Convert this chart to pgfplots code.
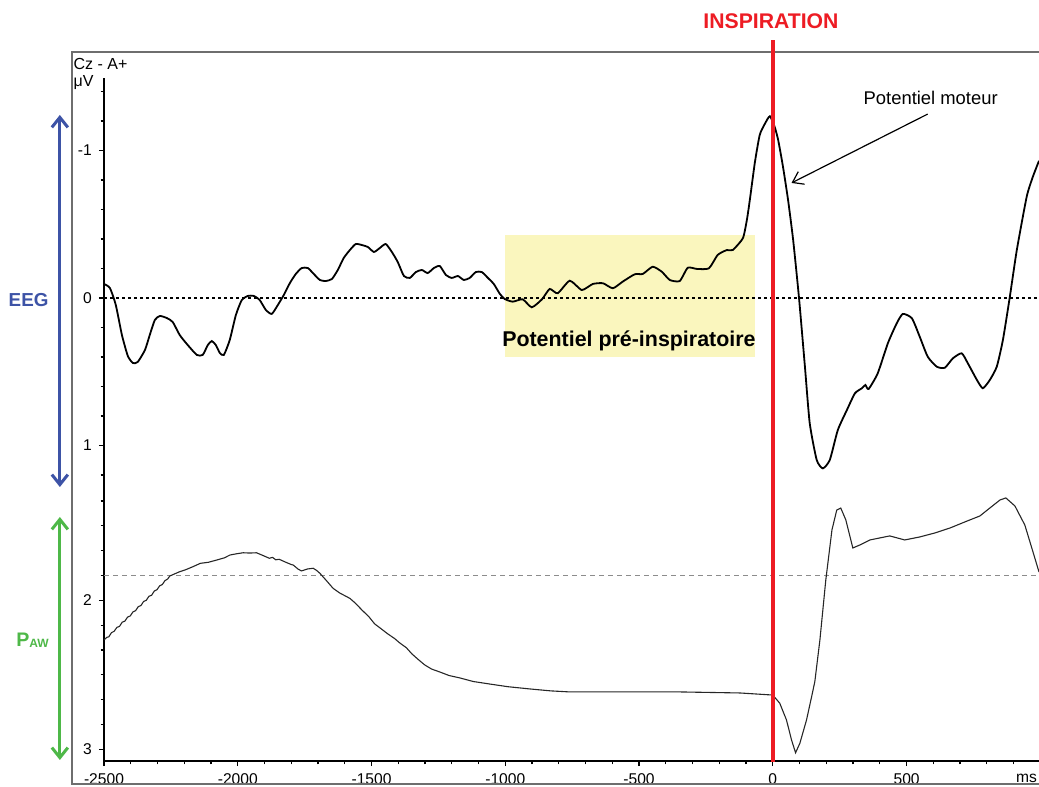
\documentclass[border=0pt]{standalone}
\usepackage{fontspec}
\setmainfont{Liberation Sans}
\usepackage{pgfplots}
\pgfplotsset{compat=1.18}
\usepackage{pgfplotstable}
\usetikzlibrary{arrows.meta}

\definecolor{eegblue}{RGB}{61,83,166}
\definecolor{pawgreen}{RGB}{78,184,72}
\definecolor{hiyellow}{RGB}{250,246,190}
\definecolor{inspred}{RGB}{237,28,36}
\definecolor{framegray}{RGB}{110,110,110}

% EEG Cz - A+ (microvolts; negative up)
\pgfplotstableread{
ms v
-2500 -0.095
-2478 -0.068
-2456 0.047
-2433 0.251
-2411 0.393
-2392 0.441
-2374 0.434
-2347 0.353
-2329 0.251
-2310 0.149
-2291 0.122
-2265 0.136
-2243 0.163
-2217 0.251
-2187 0.319
-2153 0.386
-2131 0.386
-2112 0.319
-2097 0.292
-2082 0.319
-2067 0.373
-2052 0.386
-2030 0.285
-2007 0.115
-1985 0.014
-1962 -0.014
-1940 -0.014
-1918 0.014
-1895 0.081
-1873 0.108
-1850 0.047
-1828 -0.020
-1805 -0.102
-1783 -0.163
-1761 -0.203
-1738 -0.203
-1716 -0.163
-1693 -0.122
-1671 -0.115
-1648 -0.129
-1626 -0.190
-1604 -0.271
-1581 -0.325
-1559 -0.366
-1536 -0.359
-1514 -0.346
-1491 -0.312
-1469 -0.339
-1447 -0.366
-1424 -0.312
-1402 -0.244
-1379 -0.149
-1357 -0.136
-1334 -0.176
-1312 -0.190
-1290 -0.169
-1267 -0.203
-1245 -0.217
-1222 -0.156
-1200 -0.136
-1177 -0.149
-1155 -0.122
-1133 -0.136
-1110 -0.176
-1088 -0.176
-1065 -0.136
-1043 -0.095
-1020 -0.027
-1002 0.007
-972 0.025
-935 0.009
-901 0.063
-863 0.009
-834 -0.061
-804 -0.032
-759 -0.117
-714 -0.054
-673 -0.095
-635 -0.100
-598 -0.066
-561 -0.111
-516 -0.161
-486 -0.163
-449 -0.212
-415 -0.178
-385 -0.122
-348 -0.115
-318 -0.205
-284 -0.197
-239 -0.201
-206 -0.292
-172 -0.325
-150 -0.325
-112 -0.405
-97 -0.529
-86 -0.664
-67 -0.920
-49 -1.105
-30 -1.180
-11 -1.232
7 -1.159
20 -1.071
38 -0.890
57 -0.664
76 -0.393
98 0.002
120 0.466
138 0.850
164 1.098
187 1.155
213 1.098
243 0.895
277 0.759
307 0.646
333 0.612
346 0.590
358 0.617
392 0.511
430 0.307
463 0.172
486 0.108
520 0.138
549 0.262
579 0.398
613 0.466
643 0.473
673 0.409
706 0.375
729 0.443
763 0.556
785 0.612
811 0.556
837 0.466
860 0.285
886 -0.009
912 -0.325
949 -0.687
972 -0.822
995 -0.930
}\eegtable

% Airway pressure P_AW (lower scale, increasing downward)
\pgfplotstableread{
ms w
-2500 2.266
-2490 2.249
-2482 2.245
-2472 2.217
-2462 2.208
-2452 2.182
-2442 2.175
-2432 2.147
-2422 2.140
-2412 2.113
-2402 2.105
-2392 2.078
-2382 2.070
-2372 2.043
-2362 2.035
-2352 2.008
-2342 2.000
-2332 1.973
-2322 1.966
-2312 1.938
-2302 1.929
-2292 1.903
-2282 1.894
-2272 1.868
-2262 1.857
-2254 1.837
-2235 1.822
-2217 1.808
-2195 1.795
-2167 1.774
-2140 1.752
-2110 1.745
-2079 1.730
-2050 1.715
-2029 1.696
-2005 1.688
-1980 1.681
-1955 1.683
-1930 1.681
-1905 1.700
-1882 1.718
-1870 1.712
-1858 1.728
-1845 1.725
-1820 1.745
-1800 1.760
-1793 1.763
-1775 1.790
-1762 1.803
-1740 1.790
-1718 1.785
-1705 1.800
-1693 1.819
-1670 1.865
-1644 1.919
-1620 1.950
-1581 1.987
-1560 2.020
-1536 2.065
-1510 2.110
-1488 2.159
-1465 2.190
-1439 2.226
-1415 2.255
-1394 2.287
-1370 2.318
-1349 2.360
-1325 2.398
-1301 2.434
-1275 2.462
-1245 2.481
-1210 2.505
-1170 2.521
-1120 2.545
-1058 2.562
-990 2.580
-908 2.595
-830 2.608
-759 2.615
-572 2.615
-348 2.615
-123 2.622
0 2.636
26 2.691
51 2.803
70 2.938
85 3.023
101 2.960
126 2.803
145 2.647
157 2.546
176 2.266
198 1.864
221 1.528
239 1.394
254 1.381
273 1.461
299 1.649
325 1.629
363 1.595
437 1.568
493 1.595
549 1.575
606 1.548
662 1.515
718 1.474
774 1.434
811 1.381
849 1.327
871 1.313
905 1.367
942 1.495
968 1.649
995 1.810
}\pawtable

\begin{document}
\begin{tikzpicture}
\begin{axis}[
  scale only axis, width=467.5pt, height=341.5pt,
  xmin=-2500, xmax=995, ymin=-3.139, ymax=1.4915,
  axis x line*=bottom, axis y line*=left,
  axis line style={-, line width=1pt, black},
  xtick={-2500,-2000,-1500,-1000,-500,0,500},
  xticklabels={-2500,-2000,-1500,-1000,-500,0,500},
  minor xtick={-2400,-2300,-2200,-2100,-1900,-1800,-1700,-1600,-1400,-1300,-1200,-1100,-900,-800,-700,-600,-400,-300,-200,-100,100,200,300,400,600,700,800,900},
  ytick={-3.0597,-2.0495,-1,0,1},
  yticklabels={3,2,1,0,-1},
  minor ytick={-2.8913,-2.7229,-2.5546,-2.3862,-2.2178,-1.8811,-1.7128,-1.5444,-1.376,-1.2,-0.8,-0.6,-0.4,-0.2,0.2,0.4,0.6,0.8,1.2,1.4},
  tick align=outside,
  major tick length=2.6pt, minor tick length=1.7pt,
  tick style={black, line width=0.6pt},
  ticklabel style={font=\fontsize{7.8}{9}\selectfont},
  clip=false,
]
% highlight box
\addplot[draw=none, fill=hiyellow] coordinates {(-1002,0.427) (-67,0.427) (-67,-0.402) (-1002,-0.402)} -- cycle;
% reference lines
\addplot[black, line width=0.7pt, dash pattern=on 1.5pt off 1.5pt] coordinates {(-2500,0) (995,0)};
\addplot[black!45, line width=0.5pt, dash pattern=on 2.5pt off 2pt] coordinates {(-2500,-1.8811) (995,-1.8811)};
% traces
\addplot[black, line width=0.9pt, smooth, tension=0.35] table[x=ms, y expr=-\thisrow{v}] {\eegtable};
\addplot[black!85, line width=0.55pt] table[x=ms, y expr=-(149*\thisrow{w}+4.3)/147.5] {\pawtable};

% outer frame
\draw[framegray, line width=1pt] (rel axis cs:1,1.03807) -- (rel axis cs:-0.03422,1.03807) -- (rel axis cs:-0.03422,-0.03367) -- (rel axis cs:1,-0.03367);

% inspiration marker
\draw[inspred, line width=2pt] (axis cs:0,1.749) -- (axis cs:0,-3.146);
\node[inspred, font=\bfseries\fontsize{10.6}{12}\selectfont] at (axis cs:-7,1.876) {INSPIRATION};

% labels
\node[anchor=base west, font=\fontsize{8}{9}\selectfont, inner sep=0pt] at (axis cs:-2615,1.5505) {Cz - A+};
\node[anchor=base west, font=\fontsize{8}{9}\selectfont, inner sep=0pt] at (axis cs:-2615,1.4305) {μV};
\node[anchor=base west, font=\fontsize{7.8}{9}\selectfont, inner sep=0pt] at (axis cs:908,-3.2834) {ms};

\node[anchor=base, font=\bfseries\fontsize{10.7}{12}\selectfont] at (axis cs:-538,-0.330) {Potentiel pré-inspiratoire};
\node[font=\fontsize{9.2}{10}\selectfont] at (axis cs:590,1.356) {Potentiel moteur};
\draw[black, line width=0.6pt, -{Straight Barb[length=5pt,width=7pt]}] (axis cs:579,1.247) -- (axis cs:70,0.78);

% side arrows
\draw[eegblue, line width=1.5pt, {Straight Barb[length=5pt,width=8pt]}-{Straight Barb[length=5pt,width=8pt]}] (axis cs:-2665,1.2407) -- (axis cs:-2665,-1.2814);
\draw[pawgreen, line width=1.5pt, {Straight Barb[length=5pt,width=8pt]}-{Straight Barb[length=5pt,width=8pt]}] (axis cs:-2665,-1.4847) -- (axis cs:-2665,-3.1322);
\node[eegblue, font=\bfseries\fontsize{9.4}{10}\selectfont] at (axis cs:-2782,-0.0156) {EEG};
\node[pawgreen, font=\bfseries\fontsize{9.8}{11}\selectfont] at (axis cs:-2767,-2.3186) {P{\fontsize{6}{7}\selectfont\raisebox{-0.6pt}{AW}}};

\coordinate (bbsw) at (rel axis cs:-0.11123,-0.03807);
\coordinate (bbne) at (rel axis cs:1,1.11420);
\end{axis}
\pgfresetboundingbox
\useasboundingbox (bbsw) rectangle (bbne);
\end{tikzpicture}
\end{document}
